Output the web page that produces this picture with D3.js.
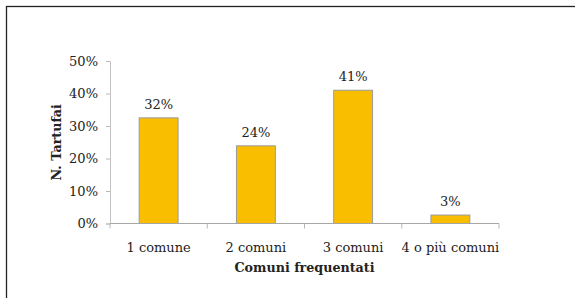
<!DOCTYPE html>
<html>
<head>
<meta charset="utf-8">
<script src="https://cdn.jsdelivr.net/npm/d3@7"></script>
<style>
  body { margin: 0; background: #fff; }
  text { font-family: "DejaVu Serif", serif; fill: #222; }
</style>
</head>
<body>
<div id="chart"></div>
<script>
// categories and values
var categories = ["1 comune", "2 comuni", "3 comuni", "4 o più comuni"];
var values = [0.325, 0.239, 0.41, 0.026];
var valueLabels = ["32%", "24%", "41%", "3%"];
var yTicks = [0, 0.1, 0.2, 0.3, 0.4, 0.5];

var width = 575,
    height = 298;

var svg = d3.select("#chart").append("svg")
    .attr("width", width)
    .attr("height", height);

// outer frame (runs off the right and bottom edges)
svg.append("rect")
    .attr("x", 6.5)
    .attr("y", 6.5)
    .attr("width", width + 10)
    .attr("height", height + 10)
    .attr("fill", "none")
    .attr("stroke", "#222")
    .attr("stroke-width", 1.3);

var plotLeft = 110, plotRight = 499, plotTop = 61, plotBottom = 223.5;

var x = d3.scaleBand()
    .domain(categories)
    .range([plotLeft, plotRight])
    .paddingInner(0.6)
    .paddingOuter(0.3);

var y = d3.scaleLinear()
    .domain([0, 0.5])
    .range([plotBottom, plotTop]);

// y axis
var yAxis = svg.append("g")
    .attr("transform", "translate(" + plotLeft + ",0)")
    .call(d3.axisLeft(y).tickValues(yTicks).tickFormat(d3.format(".0%")).tickSize(4).tickPadding(8));
yAxis.select(".domain").attr("stroke", "#c4c4c4");
yAxis.selectAll(".tick line").attr("stroke", "#b8b8b8");
yAxis.selectAll(".tick text")
    .style("font-family", "DejaVu Serif")
    .style("font-size", "13px")
    .attr("fill", "#222");

// bars
svg.append("g")
    .selectAll("rect")
    .data(values)
    .enter()
    .append("rect")
    .attr("x", function (d, i) { return x(categories[i]); })
    .attr("y", function (d) { return y(d); })
    .attr("width", x.bandwidth())
    .attr("height", function (d) { return plotBottom - y(d); })
    .attr("fill", "#f9be00")
    .attr("stroke", "#9a9a9a")
    .attr("stroke-width", 1);

// x axis: ticks at category boundaries
var boundaries = [plotLeft];
categories.forEach(function (c) { boundaries.push(x(c) - x.step() * 0.3 + x.step()); });
var xg = svg.append("g");
xg.append("line")
    .attr("x1", plotLeft).attr("x2", plotRight)
    .attr("y1", plotBottom).attr("y2", plotBottom)
    .attr("stroke", "#a6a6a6");
xg.selectAll(".xt")
    .data(boundaries)
    .enter()
    .append("line")
    .attr("x1", function (d) { return d; })
    .attr("x2", function (d) { return d; })
    .attr("y1", plotBottom)
    .attr("y2", plotBottom + 5)
    .attr("stroke", "#b8b8b8");
xg.selectAll("text")
    .data(categories)
    .enter()
    .append("text")
    .attr("x", function (d) { return x(d) + x.bandwidth() / 2; })
    .attr("y", 252)
    .attr("text-anchor", "middle")
    .style("font-size", "13px")
    .text(function (d) { return d; });

// value labels
svg.append("g")
    .selectAll("text")
    .data(values)
    .enter()
    .append("text")
    .attr("x", function (d, i) { return x(categories[i]) + x.bandwidth() / 2; })
    .attr("y", function (d) { return y(d) - 9; })
    .attr("text-anchor", "middle")
    .style("font-size", "13px")
    .text(function (d, i) { return valueLabels[i]; });

// axis titles
svg.append("text")
    .attr("x", (plotLeft + plotRight) / 2)
    .attr("y", 272)
    .attr("text-anchor", "middle")
    .style("font-size", "12.7px")
    .style("font-weight", "bold")
    .text("Comuni frequentati");

svg.append("text")
    .attr("transform", "translate(61," + ((plotTop + plotBottom) / 2) + ") rotate(-90)")
    .attr("text-anchor", "middle")
    .style("font-size", "12.7px")
    .style("font-weight", "bold")
    .text("N. Tartufai");
</script>
</body>
</html>
